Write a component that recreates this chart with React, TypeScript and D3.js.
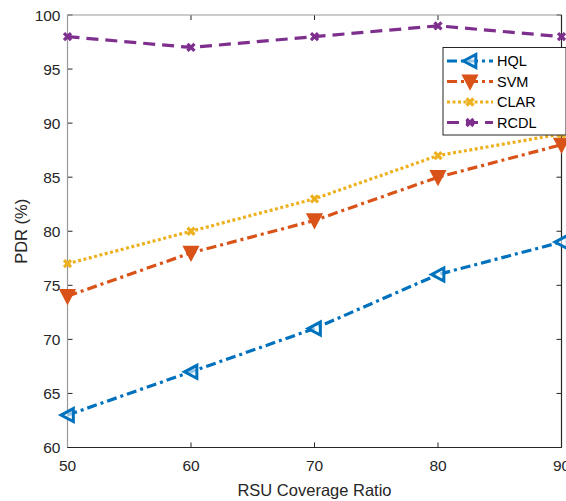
import * as d3 from "d3";

const xValues = [50, 60, 70, 80, 90];
const hql = [63, 67, 71, 76, 79];
const svm = [74, 78, 81, 85, 88];
const clar = [77, 80, 83, 87, 89];
const rcdl = [98, 97, 98, 99, 98];
const yTicks = [60, 65, 70, 75, 80, 85, 90, 95, 100];
const xTicks = [50, 60, 70, 80, 90];

const W = 566;
const H = 501;
const M = { left: 67.5, right: 561.5, top: 15, bottom: 447.5 };

type Series = {
  name: string;
  values: number[];
  color: string;
  dash: string;
  marker: "left" | "down" | "x";
};

const series: Series[] = [
  { name: "HQL", values: hql, color: "#0072BD", dash: "10,4,3,4", marker: "left" },
  { name: "SVM", values: svm, color: "#D95319", dash: "10,4,3,4", marker: "down" },
  { name: "CLAR", values: clar, color: "#EDB120", dash: "3,2.5", marker: "x" },
  { name: "RCDL", values: rcdl, color: "#7E2F8E", dash: "12,7", marker: "x" },
];

const FONT = "'Liberation Sans', Arial, sans-serif";

function Marker({ kind, x, y, color }: { kind: Series["marker"]; x: number; y: number; color: string }) {
  if (kind === "left") {
    const s = 6.5;
    return (
      <path
        d={`M${x - s},${y} L${x + s * 0.9},${y - s} L${x + s * 0.9},${y + s} Z`}
        fill="white"
        fillOpacity={0.6}
        stroke={color}
        strokeWidth={3}
        strokeLinejoin="miter"
      />
    );
  }
  if (kind === "down") {
    const s = 6.5;
    return (
      <path
        d={`M${x},${y + s} L${x - s},${y - s * 0.9} L${x + s},${y - s * 0.9} Z`}
        fill={color}
        stroke={color}
        strokeWidth={2.5}
      />
    );
  }
  const s = 3.5;
  return (
    <path
      d={`M${x - s},${y - s} L${x + s},${y + s} M${x - s},${y + s} L${x + s},${y - s}`}
      stroke={color}
      strokeWidth={3.2}
      fill="none"
    />
  );
}

export default function App() {
  const x = d3.scaleLinear().domain([50, 90]).range([M.left, M.right]);
  const y = d3.scaleLinear().domain([60, 100]).range([M.bottom, M.top]);
  const line = d3
    .line<number>()
    .x((_, i) => x(xValues[i]))
    .y((d) => y(d));

  const legend = { x: 443, y: 47.5, w: 123, h: 87.5 };
  const rowY = [61, 81.5, 102, 122.5];

  return (
    <svg
      width={W}
      height={H}
      style={{ position: "absolute", left: 0, top: 0, background: "white" }}
      fontFamily={FONT}
    >
      <rect x={0} y={0} width={W} height={H} fill="white" />

      {/* ticks */}
      <g stroke="#262626" strokeWidth={1}>
        {xTicks.map((t) => (
          <g key={"x" + t}>
            <line x1={x(t)} x2={x(t)} y1={M.bottom} y2={M.bottom - 5} />
            <line x1={x(t)} x2={x(t)} y1={M.top} y2={M.top + 5} />
          </g>
        ))}
        {yTicks.map((t) => (
          <g key={"y" + t}>
            <line x1={M.left} x2={M.left + 5} y1={y(t)} y2={y(t)} />
            <line x1={M.right} x2={M.right - 5} y1={y(t)} y2={y(t)} />
          </g>
        ))}
      </g>

      {/* box */}
      <line x1={M.left} x2={M.right} y1={M.top} y2={M.top} stroke="#999" strokeWidth={1.2} />
      <line x1={M.left} x2={M.left} y1={M.top} y2={M.bottom} stroke="#999" strokeWidth={1.2} />
      <line x1={M.left} x2={M.right} y1={M.bottom} y2={M.bottom} stroke="#262626" strokeWidth={1.2} />
      <line x1={M.right} x2={M.right} y1={M.top} y2={M.bottom} stroke="#262626" strokeWidth={1.2} />

      {/* tick labels */}
      <g fill="#262626" fontSize={15.5}>
        {yTicks.map((t) => (
          <text key={"yl" + t} x={M.left - 7} y={y(t)} dy="0.36em" textAnchor="end">
            {t}
          </text>
        ))}
        {xTicks.map((t) => (
          <text key={"xl" + t} x={x(t)} y={471} textAnchor="middle">
            {t}
          </text>
        ))}
      </g>

      <text x={(M.left + M.right) / 2} y={496} textAnchor="middle" fontSize={16.5} fill="#262626">
        RSU Coverage Ratio
      </text>
      <text
        transform={`translate(27,${(M.top + M.bottom) / 2}) rotate(-90)`}
        textAnchor="middle"
        fontSize={16.5}
        fill="#262626"
      >
        PDR (%)
      </text>

      {/* series */}
      {series.map((s) => (
        <g key={s.name}>
          <path
            d={line(s.values) ?? ""}
            fill="none"
            stroke={s.color}
            strokeWidth={3.2}
            strokeDasharray={s.dash}
          />
          {s.values.map((v, i) => (
            <Marker key={i} kind={s.marker} x={x(xValues[i])} y={y(v)} color={s.color} />
          ))}
        </g>
      ))}

      {/* legend */}
      <rect
        x={legend.x}
        y={legend.y}
        width={legend.w}
        height={legend.h}
        fill="white"
        stroke="#262626"
        strokeWidth={1}
      />
      {series.map((s, i) => (
        <g key={"lg" + s.name}>
          <line
            x1={447}
            x2={493}
            y1={rowY[i]}
            y2={rowY[i]}
            stroke={s.color}
            strokeWidth={3.2}
            strokeDasharray={s.dash}
          />
          <Marker kind={s.marker} x={470} y={rowY[i]} color={s.color} />
          <text x={497} y={rowY[i]} dy="0.36em" fontSize={14.5} fill="#000">
            {s.name}
          </text>
        </g>
      ))}
    </svg>
  );
}
